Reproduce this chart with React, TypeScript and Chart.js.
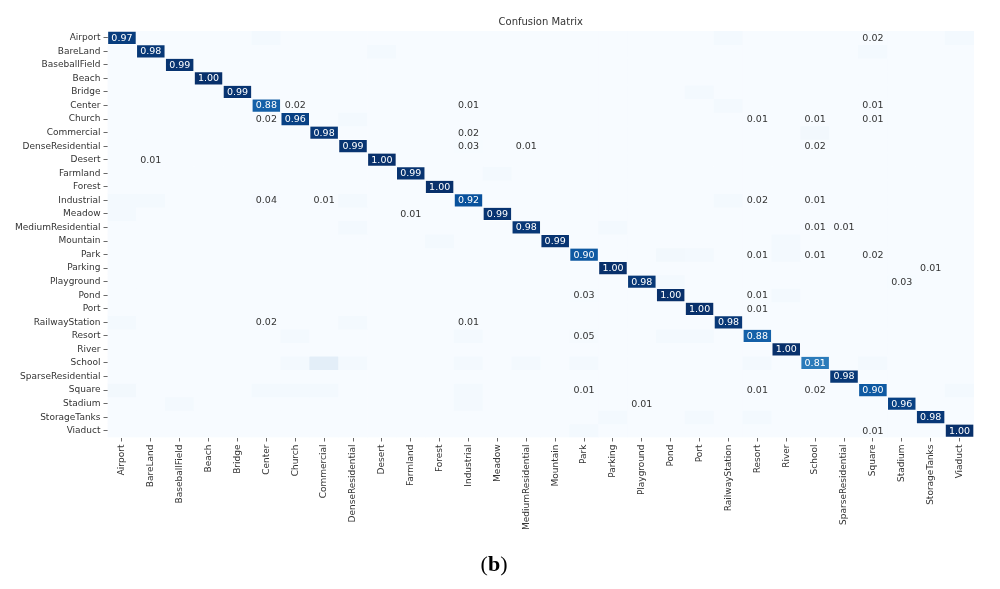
import React, { useEffect, useRef } from "react";
import { Chart, registerables } from "chart.js";

Chart.register(...registerables);

const classes = [
  "Airport", "BareLand", "BaseballField", "Beach", "Bridge", "Center", "Church",
  "Commercial", "DenseResidential", "Desert", "Farmland", "Forest", "Industrial",
  "Meadow", "MediumResidential", "Mountain", "Park", "Parking", "Playground", "Pond",
  "Port", "RailwayStation", "Resort", "River", "School", "SparseResidential",
  "Square", "Stadium", "StorageTanks", "Viaduct",
];

const diagonal = [
  0.97, 0.98, 0.99, 1.0, 0.99, 0.88, 0.96, 0.98, 0.99, 1.0, 0.99, 1.0, 0.92, 0.99, 0.98,
  0.99, 0.9, 1.0, 0.98, 1.0, 1.0, 0.98, 0.88, 1.0, 0.81, 0.98, 0.9, 0.96, 0.98, 1.0,
];

// [row (true), col (predicted), value] – annotated off-diagonal cells
const offDiagonal: [number, number, number][] = [
  [0, 26, 0.02],
  [5, 6, 0.02], [5, 12, 0.01], [5, 26, 0.01],
  [6, 5, 0.02], [6, 22, 0.01], [6, 24, 0.01], [6, 26, 0.01],
  [7, 12, 0.02],
  [8, 12, 0.03], [8, 14, 0.01], [8, 24, 0.02],
  [9, 1, 0.01],
  [12, 5, 0.04], [12, 7, 0.01], [12, 22, 0.02], [12, 24, 0.01],
  [13, 10, 0.01],
  [14, 24, 0.01], [14, 25, 0.01],
  [16, 22, 0.01], [16, 24, 0.01], [16, 26, 0.02],
  [17, 28, 0.01],
  [18, 27, 0.03],
  [19, 16, 0.03], [19, 22, 0.01],
  [20, 22, 0.01],
  [21, 5, 0.02], [21, 12, 0.01],
  [22, 16, 0.05],
  [26, 16, 0.01], [26, 22, 0.01], [26, 24, 0.02],
  [27, 18, 0.01],
  [29, 26, 0.01],
];

// faintly shaded cells that carry no annotation in the figure
const faintCells: [number, number, number][] = [
  [0, 5, 0.08], [0, 21, 0.08], [0, 29, 0.08],
  [1, 9, 0.08], [1, 26, 0.08],
  [4, 20, 0.08],
  [5, 21, 0.08],
  [6, 8, 0.08],
  [7, 24, 0.1],
  [10, 13, 0.08],
  [12, 0, 0.08], [12, 1, 0.08], [12, 8, 0.08], [12, 21, 0.08],
  [13, 0, 0.08],
  [14, 8, 0.08], [14, 17, 0.08],
  [15, 11, 0.08], [15, 23, 0.08],
  [16, 19, 0.1], [16, 20, 0.08], [16, 23, 0.08],
  [18, 19, 0.08],
  [19, 23, 0.08],
  [21, 0, 0.08], [21, 8, 0.08],
  [22, 6, 0.08], [22, 12, 0.08], [22, 19, 0.08], [22, 20, 0.08],
  [24, 6, 0.08], [24, 7, 0.24], [24, 8, 0.08], [24, 12, 0.08], [24, 14, 0.08],
  [24, 16, 0.08], [24, 22, 0.08], [24, 26, 0.08],
  [26, 0, 0.1], [26, 5, 0.08], [26, 6, 0.08], [26, 7, 0.08], [26, 12, 0.08], [26, 29, 0.08],
  [27, 2, 0.08], [27, 12, 0.08],
  [28, 17, 0.08], [28, 20, 0.08], [28, 22, 0.08],
  [29, 16, 0.08],
];

const BLUES = ["#f7fbff", "#deebf7", "#c6dbef", "#9ecae1", "#6baed6", "#4292c6", "#2171b5", "#08519c", "#08306b"];
const GAMMA = 1.6;

function hexToRgb(h: string) {
  const n = parseInt(h.slice(1), 16);
  return [(n >> 16) & 255, (n >> 8) & 255, n & 255];
}

function blues(t: number) {
  const tt = Math.max(0, Math.min(1, t));
  const p = tt * (BLUES.length - 1);
  const i = Math.min(BLUES.length - 2, Math.floor(p));
  const f = p - i;
  const a = hexToRgb(BLUES[i]);
  const b = hexToRgb(BLUES[i + 1]);
  const c = a.map((v, k) => Math.round(v + (b[k] - v) * f));
  return `rgb(${c[0]},${c[1]},${c[2]})`;
}

const cellT = (v: number) => Math.pow(v, GAMMA);
const FONT = '"DejaVu Sans", sans-serif';

export default function App() {
  const canvasRef = useRef<HTMLCanvasElement | null>(null);

  useEffect(() => {
    const n = classes.length;
    const matrix: number[][] = classes.map(() => classes.map(() => 0));
    faintCells.forEach(([r, c, v]) => (matrix[r][c] = v));
    diagonal.forEach((v, i) => (matrix[i][i] = v));
    offDiagonal.forEach(([r, c, v]) => (matrix[r][c] = v));

    const labeled: [number, number, number][] = [
      ...diagonal.map((v, i) => [i, i, v] as [number, number, number]),
      ...offDiagonal,
    ];

    const datasets = classes.map((name, r) => ({
      label: name,
      data: classes.map(() => [r - 0.5, r + 0.5]),
      backgroundColor: classes.map((_, c) => blues(cellT(matrix[r][c]))),
      borderColor: "rgba(255,255,255,0.5)",
      borderWidth: classes.map((_, c) => (cellT(matrix[r][c]) > 0.3 ? 1 : 0)),
      borderSkipped: false,
      grouped: false,
      barPercentage: 1,
      categoryPercentage: 1,
    }));

    const annotate = {
      id: "annotate",
      afterDatasetsDraw(chart: any) {
        const ctx = chart.ctx;
        ctx.save();
        ctx.font = `9.5px ${FONT}`;
        ctx.textAlign = "center";
        ctx.textBaseline = "middle";
        labeled.forEach(([r, c, v]) => {
          const el = chart.getDatasetMeta(r).data[c];
          if (!el) return;
          const y = (el.y + el.base) / 2;
          ctx.fillStyle = cellT(v) > 0.45 ? "#ffffff" : "#333333";
          ctx.fillText(v.toFixed(2), el.x, y + 0.5);
        });
        ctx.restore();
      },
    };

    const chart = new Chart(canvasRef.current as HTMLCanvasElement, {
      type: "bar",
      data: { labels: classes, datasets: datasets as any },
      plugins: [annotate],
      options: {
        animation: false,
        responsive: true,
        maintainAspectRatio: false,
        layout: { padding: { left: 0, right: 26, top: 0, bottom: 0 } },
        plugins: {
          legend: { display: false },
          tooltip: { enabled: false },
          title: {
            display: true,
            text: "Confusion Matrix",
            fullSize: false,
            color: "#333",
            font: { family: FONT, size: 10, weight: "normal" },
            padding: { top: 16, bottom: 3 },
          },
        },
        scales: {
          x: {
            type: "category",
            offset: true,
            grid: {
              offset: false,
              drawOnChartArea: false,
              drawTicks: true,
              tickLength: 4,
              tickColor: "#444",
              lineWidth: 0.8,
            },
            border: { display: false },
            ticks: {
              autoSkip: false,
              maxRotation: 90,
              minRotation: 90,
              padding: 3,
              color: "#333",
              font: { family: FONT, size: 9 },
            },
            afterFit: (s: any) => {
              s.height = 151.5;
            },
          },
          y: {
            type: "linear",
            reverse: true,
            min: -0.5,
            max: n - 0.5,
            afterBuildTicks: (s: any) => {
              s.ticks = classes.map((_, i) => ({ value: i }));
            },
            grid: {
              drawOnChartArea: false,
              drawTicks: true,
              tickLength: 4,
              tickColor: "#444",
              lineWidth: 0.8,
            },
            border: { display: false },
            ticks: {
              autoSkip: false,
              padding: 3,
              color: "#333",
              font: { family: FONT, size: 9 },
              callback: (v: any) => classes[v as number],
            },
            afterFit: (s: any) => {
              s.width = 107.5;
            },
          },
        },
      } as any,
    });

    return () => chart.destroy();
  }, []);

  return (
    <div style={{ position: "absolute", left: 0, top: 0, width: 1000, height: 589, background: "#fff" }}>
      <div style={{ position: "absolute", left: 0, top: 0, width: 1000, height: 589 }}>
        <canvas ref={canvasRef} />
      </div>
      <div
        style={{
          position: "absolute",
          left: 0,
          top: 551,
          width: 988,
          textAlign: "center",
          fontFamily: '"Liberation Serif", serif',
          fontSize: 22,
          lineHeight: "26px",
          color: "#000",
        }}
      >
        (<b>b</b>)
      </div>
    </div>
  );
}
